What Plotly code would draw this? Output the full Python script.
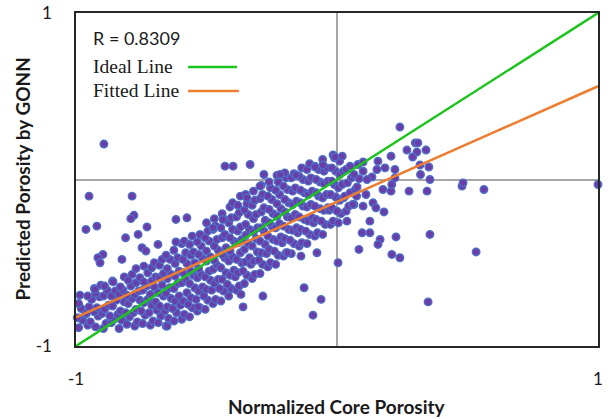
import plotly.graph_objects as go

# ---- data ----
axis_ticks = [-1, 1]
axis_tick_labels = ["-1", "1"]

ideal_x = [-1, 1]
ideal_y = [-1, 1]
fitted_x = [-1, 1]
fitted_y = [-0.828, 0.560]

r_text = "R = 0.8309"

# dense band of points (core porosity, predicted porosity)
band_x = [
    -0.99, -0.975, -0.995, -0.98, -0.99, -0.985, -0.965,
    -0.955, -0.945, -0.96, -0.95, -0.94, -0.955, -0.93,
    -0.925, -0.915, -0.93, -0.92, -0.91, -0.925, -0.905,
    -0.895, -0.885, -0.90, -0.89, -0.875, -0.895, -0.88, -0.89,
    -0.865, -0.855, -0.87, -0.86, -0.845, -0.865, -0.85, -0.86,
    -0.835, -0.825, -0.84, -0.83, -0.815, -0.835, -0.82, -0.83, -0.815,
    -0.805, -0.795, -0.81, -0.80, -0.785, -0.805, -0.79, -0.80, -0.785,
    -0.775, -0.765, -0.78, -0.77, -0.755, -0.775, -0.76, -0.77, -0.755, -0.77,
    -0.745, -0.735, -0.75, -0.74, -0.725, -0.745, -0.73, -0.74, -0.725, -0.74,
    -0.715, -0.705, -0.72, -0.71, -0.695, -0.715, -0.70, -0.71, -0.695, -0.71, -0.70,
    -0.685, -0.675, -0.69, -0.68, -0.665, -0.685, -0.67, -0.68, -0.665, -0.68, -0.67,
    -0.655, -0.645, -0.66, -0.65, -0.635, -0.655, -0.64, -0.65, -0.635, -0.65, -0.64, -0.655,
    -0.625, -0.615, -0.63, -0.62, -0.605, -0.625, -0.61, -0.62, -0.605, -0.62, -0.61, -0.625,
    -0.595, -0.585, -0.60, -0.59, -0.575, -0.595, -0.58, -0.59, -0.575, -0.59, -0.58, -0.595, -0.585,
    -0.565, -0.555, -0.57, -0.56, -0.545, -0.565, -0.55, -0.56, -0.545, -0.56, -0.55, -0.565, -0.555,
    -0.535, -0.525, -0.54, -0.53, -0.515, -0.535, -0.52, -0.53, -0.515, -0.53, -0.52, -0.535, -0.525,
    -0.505, -0.495, -0.51, -0.50, -0.485, -0.505, -0.49, -0.50, -0.485, -0.50, -0.49, -0.505, -0.495, -0.50,
    -0.475, -0.465, -0.48, -0.47, -0.455, -0.475, -0.46, -0.47, -0.455, -0.47, -0.46, -0.475, -0.465, -0.47,
    -0.445, -0.435, -0.45, -0.44, -0.425, -0.445, -0.43, -0.44, -0.425, -0.44, -0.43, -0.445, -0.435, -0.44,
    -0.415, -0.405, -0.42, -0.41, -0.395, -0.415, -0.40, -0.41, -0.395, -0.41, -0.40, -0.415, -0.405, -0.41, -0.40,
    -0.385, -0.375, -0.39, -0.38, -0.365, -0.385, -0.37, -0.38, -0.365, -0.38, -0.37, -0.385, -0.375, -0.38, -0.37,
    -0.355, -0.345, -0.36, -0.35, -0.335, -0.355, -0.34, -0.35, -0.335, -0.35, -0.34, -0.355, -0.345, -0.35,
    -0.325, -0.315, -0.33, -0.32, -0.305, -0.325, -0.31, -0.32, -0.305, -0.32, -0.31, -0.325, -0.315, -0.32,
    -0.295, -0.285, -0.30, -0.29, -0.275, -0.295, -0.28, -0.29, -0.275, -0.29, -0.28, -0.295, -0.285, -0.29,
    -0.265, -0.255, -0.27, -0.26, -0.245, -0.265, -0.25, -0.26, -0.245, -0.26, -0.25, -0.265, -0.255, -0.26,
    -0.235, -0.225, -0.24, -0.23, -0.215, -0.235, -0.22, -0.23, -0.215, -0.23, -0.22, -0.235, -0.225, -0.23,
    -0.205, -0.195, -0.21, -0.20, -0.185, -0.205, -0.19, -0.20, -0.185, -0.20, -0.19, -0.205, -0.195, -0.20,
    -0.175, -0.165, -0.18, -0.17, -0.155, -0.175, -0.16, -0.17, -0.155, -0.17, -0.16, -0.175, -0.165,
    -0.145, -0.135, -0.15, -0.14, -0.125, -0.145, -0.13, -0.14, -0.125, -0.14, -0.13, -0.145, -0.135,
    -0.115, -0.105, -0.12, -0.11, -0.095, -0.115, -0.10, -0.11, -0.095, -0.11, -0.10, -0.115, -0.105,
    -0.085, -0.075, -0.09, -0.08, -0.065, -0.085, -0.07, -0.08, -0.065, -0.08, -0.07, -0.085,
    -0.055, -0.045, -0.06, -0.05, -0.035, -0.055, -0.04, -0.05, -0.035, -0.05, -0.04, -0.055,
    -0.025, -0.015, -0.03, -0.02, -0.005, -0.025, -0.01, -0.02, -0.005, -0.02, -0.01,
    0.005, 0.015, 0.0, 0.01, 0.025, 0.005, 0.02, 0.01, 0.025, 0.01, 0.02,
    0.035, 0.045, 0.03, 0.05, 0.04, 0.055, 0.035, 0.05,
    0.065, 0.075, 0.07, 0.085, 0.065, 0.08,
]
band_y = [
    -0.89, -0.845, -0.83, -0.775, -0.745, -0.695, -0.81,
    -0.875, -0.855, -0.805, -0.765, -0.72, -0.70, -0.655,
    -0.885, -0.82, -0.795, -0.77, -0.705, -0.685, -0.635,
    -0.895, -0.865, -0.805, -0.78, -0.755, -0.70, -0.665, -0.64,
    -0.86, -0.84, -0.82, -0.76, -0.725, -0.70, -0.67, -0.61,
    -0.895, -0.845, -0.81, -0.79, -0.735, -0.69, -0.665, -0.645, -0.585,
    -0.87, -0.825, -0.80, -0.745, -0.715, -0.695, -0.64, -0.605, -0.57,
    -0.88, -0.855, -0.80, -0.78, -0.725, -0.69, -0.67, -0.62, -0.59, -0.535,
    -0.865, -0.815, -0.79, -0.74, -0.72, -0.665, -0.64, -0.615, -0.56, -0.52,
    -0.875, -0.85, -0.80, -0.755, -0.735, -0.69, -0.645, -0.61, -0.585, -0.53, -0.50,
    -0.86, -0.82, -0.785, -0.76, -0.70, -0.68, -0.635, -0.59, -0.565, -0.515, -0.48,
    -0.88, -0.835, -0.79, -0.765, -0.715, -0.685, -0.65, -0.595, -0.57, -0.535, -0.48, -0.455,
    -0.85, -0.80, -0.775, -0.73, -0.70, -0.655, -0.625, -0.58, -0.55, -0.505, -0.47, -0.425,
    -0.84, -0.81, -0.755, -0.73, -0.68, -0.62, -0.60, -0.56, -0.505, -0.48, -0.44, -0.385, -0.37,
    -0.825, -0.77, -0.75, -0.71, -0.65, -0.625, -0.575, -0.55, -0.50, -0.455, -0.435, -0.39, -0.34,
    -0.79, -0.77, -0.72, -0.67, -0.645, -0.59, -0.57, -0.535, -0.475, -0.45, -0.40, -0.375, -0.33,
    -0.78, -0.725, -0.70, -0.66, -0.605, -0.585, -0.55, -0.49, -0.465, -0.43, -0.37, -0.35, -0.31, -0.26,
    -0.745, -0.72, -0.665, -0.625, -0.60, -0.54, -0.515, -0.485, -0.425, -0.40, -0.36, -0.30, -0.28, -0.235,
    -0.73, -0.67, -0.655, -0.60, -0.56, -0.53, -0.47, -0.45, -0.41, -0.35, -0.33, -0.29, -0.235, -0.205,
    -0.70, -0.655, -0.63, -0.575, -0.545, -0.49, -0.465, -0.43, -0.37, -0.35, -0.30, -0.26, -0.23, -0.165, -0.14,
    -0.665, -0.64, -0.585, -0.56, -0.50, -0.48, -0.44, -0.38, -0.36, -0.31, -0.285, -0.225, -0.20, -0.155, -0.10,
    -0.625, -0.575, -0.55, -0.495, -0.47, -0.42, -0.385, -0.335, -0.30, -0.27, -0.21, -0.185, -0.145, -0.09,
    -0.595, -0.57, -0.51, -0.49, -0.435, -0.40, -0.355, -0.315, -0.29, -0.235, -0.21, -0.155, -0.125, -0.07,
    -0.565, -0.51, -0.485, -0.44, -0.39, -0.37, -0.31, -0.29, -0.245, -0.195, -0.17, -0.115, -0.09, -0.035,
    -0.525, -0.50, -0.445, -0.42, -0.36, -0.34, -0.28, -0.26, -0.205, -0.18, -0.12, -0.10, -0.05, -0.015,
    -0.51, -0.455, -0.43, -0.37, -0.345, -0.29, -0.265, -0.22, -0.175, -0.145, -0.09, -0.065, -0.015, 0.025,
    -0.46, -0.44, -0.38, -0.355, -0.30, -0.28, -0.225, -0.195, -0.14, -0.12, -0.06, -0.04, 0.01, 0.04,
    -0.445, -0.385, -0.365, -0.305, -0.29, -0.23, -0.21, -0.15, -0.13, -0.07, -0.05, 0.01, 0.035,
    -0.40, -0.38, -0.32, -0.30, -0.24, -0.225, -0.16, -0.14, -0.08, -0.065, 0.00, 0.02, 0.07,
    -0.385, -0.33, -0.31, -0.25, -0.23, -0.165, -0.15, -0.09, -0.07, -0.01, 0.01, 0.06, 0.095,
    -0.34, -0.32, -0.26, -0.24, -0.175, -0.16, -0.10, -0.08, -0.015, 0.00, 0.06, 0.08,
    -0.33, -0.27, -0.25, -0.185, -0.17, -0.11, -0.09, -0.025, -0.01, 0.05, 0.07, 0.12,
    -0.27, -0.25, -0.185, -0.17, -0.105, -0.09, -0.03, -0.01, 0.05, 0.07, 0.13,
    -0.26, -0.205, -0.19, -0.125, -0.11, -0.05, -0.03, 0.03, 0.05, 0.11, 0.14,
    -0.19, -0.16, -0.10, -0.08, -0.02, 0.01, 0.06, 0.08,
    -0.15, -0.10, -0.06, 0.005, 0.03, 0.09,
]

# scattered points outside the dense band
spread_x = [
    -0.893, -0.95, -0.785, -0.778, -0.79, -0.962, -0.92, -0.728, -0.762, -0.81,
    -0.617, -0.575, -0.686, -0.747, -0.732, -0.897, -0.916, -0.908, -0.824, -0.617,
    -0.858, -0.927, -0.651, -0.532, -0.437, -0.475, -0.345,
    -0.429, -0.398, -0.333, -0.218, -0.157, -0.084, -0.054, -0.015, -0.008, -0.295, -0.28,
    0.241, 0.268, 0.30, 0.31, 0.306, 0.29, 0.318, 0.341, 0.352, 0.32, 0.356,
    0.479, 0.483, 0.563, 1.0, 0.345, 0.276, 0.207, 0.176, 0.21, 0.222, 0.222,
    0.184, 0.153, 0.157, 0.207, 0.10, 0.10, 0.134, 0.115, 0.077, 0.111,
    0.06, 0.10, 0.138, 0.149, 0.18, 0.038, 0.126, 0.096, 0.126, 0.165,
    0.157, 0.226, 0.356, 0.084, 0.21, 0.241, 0.004, 0.533, 0.349,
    -0.19, -0.138, -0.077, -0.368, -0.284, -0.36, -0.126, -0.061, -0.092,
]
spread_y = [
    0.213, -0.10, -0.10, -0.215, -0.235, -0.30, -0.28, -0.285, -0.33, -0.35,
    -0.24, -0.23, -0.39, -0.41, -0.43, -0.45, -0.47, -0.50, -0.48, -0.375,
    -0.615, -0.66, -0.88, -0.765, -0.24, -0.29, -0.11,
    0.08, 0.08, 0.09, 0.03, 0.027, 0.075, 0.087, 0.147, 0.135, -0.04, 0.03,
    0.315, 0.177, 0.22, 0.22, 0.165, 0.135, 0.087, 0.177, 0.075, 0.03, 0.0,
    -0.04, -0.02, -0.06, -0.03, -0.07, -0.07, -0.07, -0.06, -0.03, 0.06, 0.01,
    0.07, 0.06, 0.11, 0.14, 0.105, 0.05, 0.015, 0.0, -0.045, -0.09,
    -0.15, -0.16, -0.14, -0.17, -0.195, -0.25, -0.25, -0.32, -0.32, -0.36,
    -0.39, -0.345, -0.33, -0.42, -0.45, -0.47, -0.50, -0.435, -0.735,
    -0.44, -0.46, -0.44, -0.69, -0.70, -0.765, -0.65, -0.72, -0.815,
]

# ---- figure ----
marker_style = dict(size=7.5, color="#6A3DA8", line=dict(color="#4E6DC6", width=1.4))

fig = go.Figure()
fig.add_trace(go.Scatter(x=band_x, y=band_y, mode="markers", marker=marker_style,
                         cliponaxis=False, showlegend=False, hoverinfo="skip"))
fig.add_trace(go.Scatter(x=spread_x, y=spread_y, mode="markers", marker=marker_style,
                         cliponaxis=False, showlegend=False, hoverinfo="skip"))
fig.add_trace(go.Scatter(x=ideal_x, y=ideal_y, mode="lines",
                         line=dict(color="#1DC41D", width=2.5), showlegend=False))
fig.add_trace(go.Scatter(x=fitted_x, y=fitted_y, mode="lines",
                         line=dict(color="#ED7D31", width=2.5), showlegend=False))

axis_common = dict(
    range=[-1, 1], tickvals=axis_ticks, ticktext=axis_tick_labels,
    showgrid=False, zeroline=True, zerolinecolor="#A6A6A6", zerolinewidth=1.5,
    showline=True, linecolor="#262626", linewidth=1.5, mirror=True,
    ticks="", automargin=False,
    tickfont=dict(family="Lato", size=17, color="#1a1a1a"),
)
fig.update_xaxes(**axis_common, ticklabelstandoff=17)
fig.update_yaxes(**axis_common, ticklabelstandoff=19)

annotations = [
    dict(text=r_text, xref="paper", yref="paper", x=0.028, y=0.925,
         xanchor="left", yanchor="middle", showarrow=False,
         font=dict(family="Lato", size=18, color="#1a1a1a")),
    dict(text="Ideal Line", xref="paper", yref="paper", x=0.028, y=0.838,
         xanchor="left", yanchor="middle", showarrow=False,
         font=dict(family="Liberation Serif", size=19.5, color="#1a1a1a")),
    dict(text="Fitted Line", xref="paper", yref="paper", x=0.028, y=0.766,
         xanchor="left", yanchor="middle", showarrow=False,
         font=dict(family="Liberation Serif", size=19.5, color="#1a1a1a")),
    dict(text="<b>Normalized Core Porosity</b>", xref="paper", yref="paper",
         x=0.5, y=0, yshift=-60, xanchor="center", yanchor="middle", showarrow=False,
         font=dict(family="Lato", size=19, color="#1a1a1a")),
    dict(text="<b>Predicted Porosity by GONN</b>", xref="paper", yref="paper",
         x=0, y=0.5, xshift=-54, xanchor="center", yanchor="middle", showarrow=False,
         textangle=-90, font=dict(family="Lato", size=19, color="#1a1a1a")),
]

shapes = [
    dict(type="line", xref="paper", yref="paper", x0=0.2146, x1=0.3084, y0=0.838, y1=0.838,
         line=dict(color="#1DC41D", width=2.5)),
    dict(type="line", xref="paper", yref="paper", x0=0.2146, x1=0.312, y0=0.766, y1=0.766,
         line=dict(color="#ED7D31", width=2.5)),
]

fig.update_layout(
    width=611, height=419,
    margin=dict(l=76, r=13, t=13, b=73),
    paper_bgcolor="white", plot_bgcolor="white",
    annotations=annotations, shapes=shapes,
)

fig.write_html("out.html")
